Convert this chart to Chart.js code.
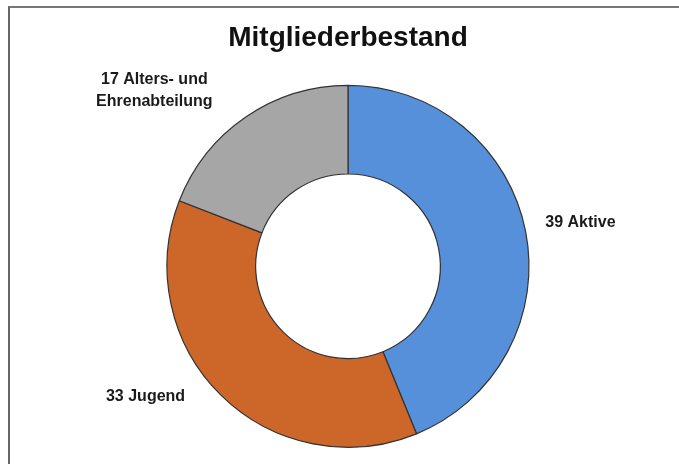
<!DOCTYPE html>
<html>
<head>
<meta charset="utf-8">
<script src="https://cdn.jsdelivr.net/npm/chart.js@4"></script>
<style>
  html, body { margin: 0; padding: 0; background: #fff; overflow: hidden; }
  #frame { position: absolute; left: 8px; top: 6px; width: 720px; height: 520px;
           border-left: 2px solid #666; border-top: 2px solid #777; }
  #chart { position: absolute; left: 0; top: 0; }
</style>
</head>
<body>
<div id="frame"></div>
<canvas id="chart" width="679" height="464"></canvas>
<script>
// Mitgliederbestand
const labels = ['Aktive', 'Jugend', 'Alters- und Ehrenabteilung'];
const members = [39, 33, 17];
const colors = ['#5790DA', '#CC6629', '#A6A6A6'];
// label text lines per slice
const labelLines = [['39 Aktive'], ['33 Jugend'], ['17 Alters- und', 'Ehrenabteilung']];
// label anchor relative to doughnut center, in units of outer radius
const labelAnchor = [[1.09, -0.24, 'left'], [-0.90, 0.72, 'right'], [-1.07, -0.97, 'center']];

const sliceLabels = {
    id: 'sliceLabels',
    afterDatasetsDraw(chart) {
        const ctx = chart.ctx;
        const meta = chart.getDatasetMeta(0);
        ctx.save();
        ctx.font = 'bold 16px "Liberation Sans", Arial, sans-serif';
        ctx.fillStyle = '#1a1a1a';
        ctx.textBaseline = 'middle';
        meta.data.forEach((arc, i) => {
            const r = arc.outerRadius;
            const x = arc.x + labelAnchor[i][0] * r;
            const y = arc.y + labelAnchor[i][1] * r;
            ctx.textAlign = labelAnchor[i][2];
            const lines = labelLines[i];
            const lh = 22;
            lines.forEach((t, k) => {
                ctx.fillText(t, x, y + (k - (lines.length - 1) / 2) * lh);
            });
        });
        ctx.restore();
    }
};

new Chart(document.getElementById('chart'), {
    type: 'doughnut',
    data: {
        labels: labels,
        datasets: [{
            data: members,
            backgroundColor: colors,
            borderColor: '#333',
            borderWidth: 1.2,
            hoverOffset: 0
        }]
    },
    options: {
        responsive: false,
        animation: false,
        radius: 181,
        cutout: '51%',
        layout: { padding: { left: 100, right: 83, top: 0, bottom: 0 } },
        plugins: {
            legend: { display: false },
            tooltip: { enabled: false },
            title: {
                display: true,
                text: 'Mitgliederbestand',
                color: '#111',
                font: { family: '"Liberation Sans", Arial, sans-serif', size: 28, weight: 'bold' },
                padding: { top: 21, bottom: 14 }
            }
        }
    },
    plugins: [sliceLabels]
});
</script>
</body>
</html>
